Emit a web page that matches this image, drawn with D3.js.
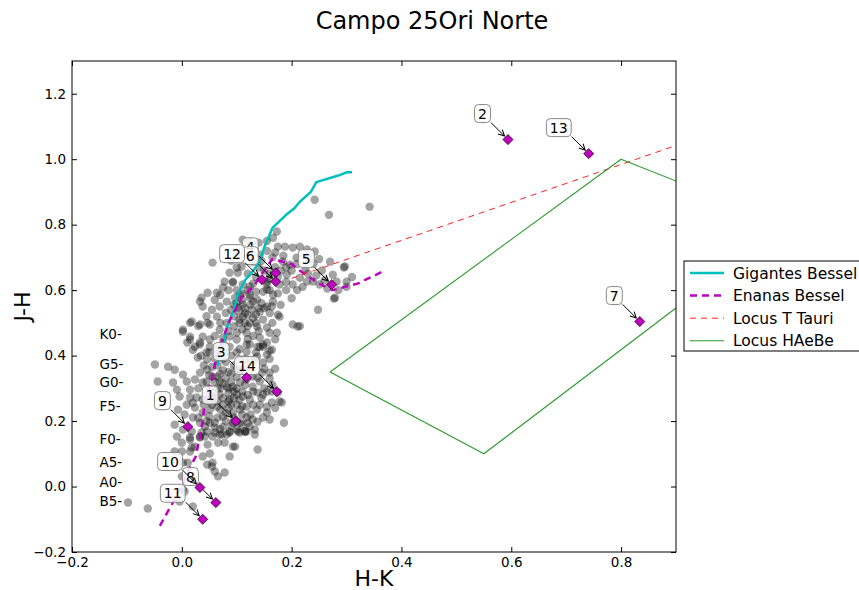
<!DOCTYPE html>
<html>
<head>
<meta charset="utf-8">
<script src="https://cdn.jsdelivr.net/npm/d3@7"></script>
<style>
  body { margin: 0; background: #fff; }
  svg { display: block; font-family: "DejaVu Sans", sans-serif; }
</style>
</head>
<body>
<svg id="chart" width="859" height="590"></svg>
<script>
// ---- Field stars: (H-K, J-H) colours ----
const fieldStars = [
  [0.242,0.876],[0.268,0.83],[0.342,0.855],[0.295,0.669],[0.277,0.574],[0.248,0.54],[0.215,0.49],
  [0.173,0.779],[0.166,0.76],[0.175,0.733],[0.188,0.733],[0.202,0.73],[0.215,0.733],[0.228,0.724],
  [0.111,0.754],[0.124,0.748],[0.242,0.718],[0.27,0.687],[0.297,0.672],[0.275,0.647],[0.282,0.626],
  [0.3,0.626],[0.279,0.577],[0.202,0.617],[0.215,0.638],[0.228,0.626],[0.239,0.626],[0.251,0.617],
  [0.184,0.687],[0.197,0.678],[0.209,0.699],[0.191,0.647],[0.178,0.617],[0.142,0.708],[0.129,0.687],
  [0.1,0.669],[0.093,0.626],[0.111,0.617],[0.155,0.617],[0.148,0.595],[0.166,0.586],[0.124,0.586],
  [0.106,0.586],[0.137,0.571],[0.166,0.565],
  [0.15,0.66],[0.16,0.65],[0.135,0.64],[0.18,0.66],[0.19,0.625],[0.2,0.66],[0.165,0.7],[0.155,0.72],
  [0.145,0.69],[0.17,0.715],[0.185,0.705],[0.21,0.68],[0.225,0.665],[0.24,0.68],[0.255,0.66],[0.26,0.63],
  [0.245,0.645],[0.23,0.7],[0.12,0.65],[0.13,0.62],[0.16,0.6],[0.175,0.59],[0.19,0.6],[0.21,0.6],
  [0.22,0.61],[0.265,0.605],[0.285,0.6],[0.3,0.61],[0.31,0.64],[0.2,0.575],[0.18,0.555],[0.15,0.545],
  [0.14,0.745],[0.155,0.75],[0.1,0.71],[0.09,0.69],[0.25,0.695],[0.17,0.67],[0.14,0.67],[0.23,0.65],
  [0.056,0.684],[0.087,0.653],[0.102,0.653],[0.109,0.672],[0.078,0.626],[0.093,0.623],[0.075,0.608],
  [0.064,0.592],[0.047,0.592],[0.036,0.577],[0.033,0.565],[0.038,0.55],[0.055,0.54],[0.064,0.519],
  [0.069,0.55],[0.082,0.565],[0.097,0.577],[0.102,0.547],[0.111,0.556],[0.124,0.577],[0.128,0.54],
  [0.142,0.534],[0.155,0.55],[0.111,0.519],[0.124,0.5],[0.137,0.489],[0.148,0.51],[0.082,0.5],
  [0.069,0.479],[0.051,0.495],[0.018,0.504],[0.002,0.479],[0.015,0.458],[0.038,0.458],[0.033,0.44],
  [0.051,0.449],[0.087,0.458],[0.1,0.449],[0.118,0.47],[0.142,0.455],[0.148,0.427],[0.124,0.434],
  [0.064,0.424],[0.024,0.427],[0.155,0.602],[0.155,0.626],[0.124,0.611],
  [0.1,0.56],[0.105,0.535],[0.115,0.545],[0.12,0.525],[0.13,0.515],[0.115,0.5],[0.105,0.51],[0.095,0.52],
  [0.135,0.5],[0.14,0.475],[0.13,0.46],[0.12,0.45],[0.11,0.48],[0.095,0.49],[0.085,0.475],[0.075,0.455],
  [0.06,0.46],[0.07,0.5],[0.09,0.54],[0.08,0.53],[0.06,0.57],[0.07,0.585],[0.085,0.6],[0.1,0.6],
  [0.11,0.59],[0.145,0.56],[0.16,0.53],[0.165,0.5],[0.16,0.47],[0.17,0.45],[0.155,0.44],[0.045,0.52],
  [0.03,0.49],[0.01,0.44],[0.045,0.41],[0.075,0.44],[0.105,0.42],[0.135,0.41],[0.16,0.415],
  [0.202,0.495],[0.211,0.489],[0.175,0.525],[0.155,0.486],[0.138,0.427],[0.137,0.397],[0.178,0.519],
  [0.164,0.55],[0.173,0.47],[0.148,0.434],[0.164,0.418],
  [0.115,0.53],[0.125,0.555],[0.135,0.525],[0.12,0.49],[0.105,0.5],[0.13,0.565],[0.11,0.57],
  [0.14,0.545],[0.095,0.555],[0.12,0.6],[0.135,0.595],[0.16,0.635],[0.175,0.64],[0.19,0.67],
  [-0.049,0.373],[-0.025,0.366],[-0.013,0.357],[0.002,0.342],[-0.044,0.321],[-0.016,0.318],[-0.009,0.296],
  [0.009,0.321],[0.015,0.296],[-0.004,0.275],[0.009,0.25],[0.005,0.22],[-0.007,0.235],[0.024,0.241],
  [0.02,0.211],[0.033,0.195],[-0.013,0.189],[0.002,0.174],[0.018,0.168],[0.036,0.165],[0.046,0.168],
  [0.06,0.18],[0.075,0.183],[0.087,0.168],[0.1,0.174],[0.115,0.168],[0.124,0.183],[0.133,0.174],
  [0.138,0.198],[0.129,0.205],[0.148,0.211],[0.155,0.244],[0.142,0.25],[0.138,0.287],[0.155,0.29],
  [0.129,0.305],[0.142,0.321],[0.129,0.336],[0.106,0.357],[0.106,0.388],[0.087,0.427],[0.051,0.427],
  [0.033,0.434],[0.02,0.418],[0.029,0.394],[0.046,0.388],[0.064,0.403],[0.046,0.357],[0.033,0.348],
  [0.024,0.327],[0.038,0.318],[0.056,0.336],[0.069,0.321],[0.082,0.305],[0.093,0.305],[0.106,0.318],
  [0.118,0.327],[0.1,0.281],[0.087,0.266],[0.075,0.25],[0.064,0.244],[0.051,0.235],[0.038,0.226],
  [0.075,0.214],[0.093,0.226],[0.106,0.235],[0.118,0.244],[0.124,0.266],[0.111,0.275],[0.069,0.281],
  [0.055,0.275],[0.038,0.266],[0.027,0.272],[0.015,0.272],[0.138,0.333],[0.16,0.348],[0.148,0.379],
  [0.164,0.257],[0.155,0.226],[0.137,0.235],[0.118,0.211],[0.106,0.195],[0.093,0.195],[0.051,0.195],
  [0.042,0.183],[0.056,0.153],[0.069,0.159],[0.082,0.159],[0.106,0.165],[0.118,0.168],[0.133,0.159],
  [0.118,0.412],[0.142,0.427],[0.155,0.403],[0.033,0.153],[0.015,0.15],[-0.009,0.153],
  [0.05,0.34],[0.06,0.32],[0.07,0.3],[0.08,0.33],[0.09,0.32],[0.1,0.3],[0.11,0.29],[0.095,0.27],
  [0.085,0.285],[0.075,0.27],[0.065,0.26],[0.06,0.29],[0.05,0.3],[0.045,0.28],[0.04,0.25],[0.055,0.25],
  [0.07,0.235],[0.085,0.24],[0.1,0.25],[0.11,0.22],[0.095,0.21],[0.08,0.2],[0.065,0.21],[0.05,0.215],
  [0.06,0.195],[0.09,0.185],[0.11,0.19],[0.125,0.22],[0.13,0.25],[0.12,0.28],[0.115,0.31],[0.09,0.345],
  [0.075,0.355],[0.065,0.37],[0.08,0.38],[0.095,0.37],[0.055,0.365],[0.04,0.37],[0.03,0.3],[0.02,0.255],
  [0.03,0.21],[0.045,0.2],[0.07,0.175],[0.1,0.2],[0.12,0.195],[0.085,0.3],[0.065,0.335],[0.1,0.335],
  [0.115,0.36],[0.125,0.38],[0.13,0.29],[0.145,0.27],[0.15,0.3],[0.075,0.39],[0.09,0.4],[0.1,0.41],
  [0.06,0.39],[0.05,0.41],[0.035,0.4],[0.08,0.41],[0.115,0.39],
  [0.065,0.3],[0.075,0.315],[0.085,0.26],[0.095,0.29],[0.105,0.265],[0.06,0.27],[0.05,0.26],
  [0.08,0.225],[0.09,0.25],[0.07,0.345],[0.085,0.35],[0.1,0.36],[0.045,0.32],[0.11,0.245],
  [0.133,0.388],[0.146,0.348],[0.16,0.33],[0.175,0.287],[0.182,0.257],[0.148,0.281],[0.16,0.205],
  [0.178,0.26],[0.186,0.195],[0.17,0.24],[0.165,0.31],[0.15,0.36],[0.17,0.36],[0.16,0.39],[0.164,0.29],
  [0.002,0.473],[0.015,0.449],[0.015,0.5],[0.033,0.495],[0.047,0.5],[0.1,0.47],[0.118,0.434],
  [0.0,0.134],[0.015,0.143],[0.033,0.15],[0.042,0.153],[0.06,0.165],[0.073,0.159],[0.087,0.165],
  [0.102,0.168],[0.115,0.168],[0.024,0.122],[0.047,0.128],[0.066,0.134],[0.078,0.134],[0.097,0.122],
  [0.0,0.107],[0.018,0.119],[0.038,0.092],[0.051,0.101],[0.087,0.092],[0.138,0.113],[0.002,0.073],
  [0.011,0.073],[0.046,0.067],[0.055,0.061],[0.06,0.046],[0.078,0.043],[0.066,0.031],[0.0,0.031],
  [0.02,0.021],[0.005,-0.015],[-0.098,-0.049],[-0.062,-0.067],[-0.004,-0.046],[0.02,-0.061],
  [-0.013,0.107],[0.015,0.107],[0.056,0.073],[0.093,0.122],[0.002,-0.009]
];

// ---- Intrinsic sequences (Bessell & Brett) ----
const giantsHK = [0.065,0.08,0.085,0.085,0.095,0.10,0.115,0.14,0.15,0.165,0.19,0.205,0.215,0.235,0.245,0.285,0.30,0.31];
const giantsJH = [0.37,0.47,0.50,0.50,0.54,0.58,0.63,0.68,0.73,0.79,0.83,0.85,0.87,0.90,0.93,0.95,0.96,0.96];

const dwarfsHK = [-0.04,0.00,0.005,0.015,0.025,0.03,0.035,0.04,0.045,0.05,0.052,0.055,0.06,0.075,0.085,0.11,0.13,0.15,0.165,0.20,0.21,0.25,0.275,0.32,0.37];
const dwarfsJH = [-0.12,0.00,0.02,0.06,0.09,0.13,0.165,0.23,0.265,0.305,0.32,0.33,0.37,0.45,0.50,0.58,0.61,0.66,0.695,0.68,0.665,0.62,0.60,0.62,0.66];

// ---- Classical T Tauri locus ----
const ttauriHK = [0.20, 1.00];
const ttauriJH = [0.636, 1.10];

// ---- Herbig Ae/Be region ----
const haebeHK = [0.27, 0.80, 1.10, 0.55, 0.27];
const haebeJH = [0.35, 1.00, 0.80, 0.10, 0.35];

// ---- Spectral-type marks along the dwarf sequence ----
const spTypes = ["K0-","G5-","G0-","F5-","F0-","A5-","A0-","B5-"];
const spJH    = [0.45, 0.36, 0.305, 0.23, 0.13, 0.06, 0.00, -0.06];
const spHK    = -0.15;

// ---- Catalogued objects ----
const starIds = ["1","2","3","4","5","6","7","8","9","10","11","12","13","14"];
const starHK  = [0.098,0.594,0.118,0.171,0.273,0.171,0.834,0.062,0.011,0.033,0.038,0.146,0.741,0.173];
const starJH  = [0.200,1.060,0.333,0.653,0.617,0.626,0.504,-0.049,0.183,-0.003,-0.100,0.632,1.017,0.290];

// ---- Axis ticks ----
const xTicks = [-0.2, 0.0, 0.2, 0.4, 0.6, 0.8];
const yTicks = [-0.2, 0.0, 0.2, 0.4, 0.6, 0.8, 1.0, 1.2];

const legendItems = ["Gigantes Bessel", "Enanas Bessel", "Locus T Tauri", "Locus HAeBe"];

// ------------------------------------------------------------------
const svg = d3.select("#chart");
const box = { left: 72, right: 676, top: 61, bottom: 552 };

const x = d3.scaleLinear().domain([-0.2, 0.9]).range([box.left, box.right]);
const y = d3.scaleLinear().domain([-0.2, 1.3]).range([box.bottom, box.top]);

const defs = svg.append("defs");
defs.append("clipPath").attr("id", "plotArea")
  .append("rect")
  .attr("x", box.left).attr("y", box.top)
  .attr("width", box.right - box.left).attr("height", box.bottom - box.top);

defs.append("marker")
  .attr("id", "arrowHead")
  .attr("viewBox", "-8 -5 10 10")
  .attr("refX", 0).attr("refY", 0)
  .attr("markerWidth", 10).attr("markerHeight", 10)
  .attr("markerUnits", "userSpaceOnUse")
  .attr("orient", "auto")
  .append("path")
  .attr("d", "M-6,-3 L0,0 L-6,3")
  .attr("fill", "none").attr("stroke", "#000").attr("stroke-width", 1);

// title
svg.append("text")
  .attr("x", 432).attr("y", 29)
  .attr("text-anchor", "middle")
  .style("font-size", "24px")
  .text("Campo 25Ori Norte");

const plot = svg.append("g").attr("clip-path", "url(#plotArea)");

// field stars
plot.append("g").selectAll("circle")
  .data(fieldStars)
  .join("circle")
  .attr("cx", d => x(d[0]))
  .attr("cy", d => y(d[1]))
  .attr("r", 4.2)
  .attr("fill", "#000")
  .attr("fill-opacity", 0.36);

const line = d3.line().x(d => x(d[0])).y(d => y(d[1]));

const seqStyles = [
  { data: d3.zip(giantsHK, giantsJH), color: "#00bfbf", width: 2.5, dash: null },
  { data: d3.zip(dwarfsHK, dwarfsJH), color: "#bf00bf", width: 2.5, dash: "7,5" },
  { data: d3.zip(ttauriHK, ttauriJH), color: "#ff2020", width: 1, dash: "6,5" },
  { data: d3.zip(haebeHK, haebeJH), color: "#2a9a2a", width: 1.1, dash: null }
];

plot.selectAll("path.seq")
  .data(seqStyles)
  .join("path")
  .attr("class", "seq")
  .attr("d", d => line(d.data))
  .attr("fill", "none")
  .attr("stroke", d => d.color)
  .attr("stroke-width", d => d.width)
  .attr("stroke-dasharray", d => d.dash)
  .attr("stroke-linejoin", "round");

// spectral-type marks
svg.append("g").selectAll("text")
  .data(spTypes)
  .join("text")
  .attr("x", x(spHK))
  .attr("y", (d, i) => y(spJH[i]))
  .style("font-size", "13.5px")
  .text(d => d);

// catalogued objects: diamonds with labelled arrows
const stars = starIds.map((id, i) => ({ id, hk: starHK[i], jh: starJH[i] }));

const ann = svg.append("g");
stars.forEach(s => {
  const px = x(s.hk), py = y(s.jh);
  const g = ann.append("g");
  const t = g.append("text")
    .attr("x", px - 21).attr("y", py - 21)
    .attr("text-anchor", "end")
    .style("font-size", "14px")
    .text(s.id);
  const bb = t.node().getBBox();
  g.insert("rect", "text")
    .attr("x", bb.x - 3.5).attr("y", bb.y - 1)
    .attr("width", bb.width + 7).attr("height", bb.height + 2)
    .attr("rx", 4).attr("ry", 4)
    .attr("fill", "#fff").attr("fill-opacity", 0.85)
    .attr("stroke", "#888").attr("stroke-width", 1);
  g.append("line")
    .attr("x1", px - 17).attr("y1", py - 17)
    .attr("x2", px - 3.5).attr("y2", py - 3.5)
    .attr("stroke", "#000").attr("stroke-width", 1)
    .attr("marker-end", "url(#arrowHead)");
});

svg.append("g").selectAll("path")
  .data(stars)
  .join("path")
  .attr("d", d3.symbol(d3.symbolSquare, 52))
  .attr("transform", d => `translate(${x(d.hk)},${y(d.jh)}) rotate(45)`)
  .attr("fill", "#bf00bf")
  .attr("stroke", "#000").attr("stroke-width", 0.6);

// axes (ticks inward on all four sides)
const fmt = d3.format(".1f");
const axisStyle = g => {
  g.attr("font-family", null).attr("font-size", null);
  g.select(".domain").remove();
  g.selectAll("line").attr("stroke", "#000");
  g.selectAll("text").style("font-size", "13.5px").attr("fill", "#000");
};

svg.append("g").attr("transform", `translate(0,${box.bottom})`)
  .call(d3.axisBottom(x).tickValues(xTicks).tickFormat(fmt).tickSizeInner(-5).tickSizeOuter(0).tickPadding(5))
  .call(axisStyle);
svg.append("g").attr("transform", `translate(0,${box.top})`)
  .call(d3.axisTop(x).tickValues(xTicks).tickFormat("").tickSizeInner(-5).tickSizeOuter(0))
  .call(axisStyle);
svg.append("g").attr("transform", `translate(${box.left},0)`)
  .call(d3.axisLeft(y).tickValues(yTicks).tickFormat(fmt).tickSizeInner(-5).tickSizeOuter(0).tickPadding(6))
  .call(axisStyle);
svg.append("g").attr("transform", `translate(${box.right},0)`)
  .call(d3.axisRight(y).tickValues(yTicks).tickFormat("").tickSizeInner(-5).tickSizeOuter(0))
  .call(axisStyle);

svg.append("rect")
  .attr("x", box.left).attr("y", box.top)
  .attr("width", box.right - box.left).attr("height", box.bottom - box.top)
  .attr("fill", "none").attr("stroke", "#000").attr("stroke-width", 1);

// axis titles
svg.append("text")
  .attr("x", (box.left + box.right) / 2).attr("y", 586)
  .attr("text-anchor", "middle")
  .style("font-size", "22px")
  .text("H-K");
svg.append("text")
  .attr("transform", `translate(30,${(box.top + box.bottom) / 2}) rotate(-90)`)
  .attr("text-anchor", "middle")
  .style("font-size", "22px")
  .text("J-H");

// legend
const lg = svg.append("g").attr("transform", "translate(684,261)");
lg.append("rect")
  .attr("x", 0).attr("y", 0).attr("width", 200).attr("height", 90)
  .attr("fill", "#fff").attr("stroke", "#000").attr("stroke-width", 1);
legendItems.forEach((name, i) => {
  const st = seqStyles[i];
  const yy = 12 + i * 22.6;
  lg.append("line")
    .attr("x1", 6).attr("x2", 40).attr("y1", yy).attr("y2", yy)
    .attr("stroke", st.color).attr("stroke-width", st.width)
    .attr("stroke-dasharray", st.dash);
  lg.append("text")
    .attr("x", 49).attr("y", yy)
    .attr("dy", "0.36em")
    .style("font-size", "15.5px")
    .text(name);
});
</script>
</body>
</html>
